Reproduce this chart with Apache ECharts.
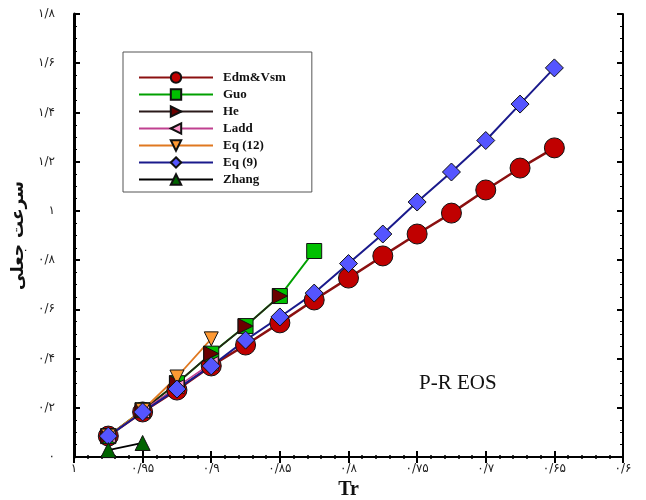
<!DOCTYPE html>
<html><head><meta charset="utf-8">
<script src="https://cdn.jsdelivr.net/npm/echarts@6/dist/echarts.min.js"></script>
<style>html,body{margin:0;padding:0;background:#fff}#c{width:646px;height:500px}</style>
</head><body><div id="c"></div>
<script>
// Tr values (x axis, reversed)
const trAll = [0.975, 0.95, 0.925, 0.9, 0.875, 0.85, 0.825, 0.8, 0.775, 0.75, 0.725, 0.7, 0.675, 0.65];
const edmVsm = [0.085, 0.183, 0.272, 0.37, 0.455, 0.545, 0.638, 0.727, 0.817, 0.906, 0.991, 1.085, 1.174, 1.256];
const eq9    = [0.085, 0.183, 0.276, 0.37, 0.475, 0.569, 0.666, 0.786, 0.906, 1.036, 1.158, 1.286, 1.434, 1.581];
const guo    = [0.085, 0.19, 0.30, 0.42, 0.532, 0.654, 0.837];
const he     = [0.085, 0.19, 0.30, 0.42, 0.532, 0.654];
const ladd   = [0.085, 0.186, 0.285, 0.38];
const eq12   = [0.085, 0.19, 0.325, 0.48];
const zhang  = [0.028, 0.057];
const seriesNames = ['Edm&Vsm', 'Guo', 'He', 'Ladd', 'Eq (12)', 'Eq (9)', 'Zhang'];
const xTicks = [1, 0.95, 0.9, 0.85, 0.8, 0.75, 0.7, 0.65, 0.6];
const yTicks = [0, 0.2, 0.4, 0.6, 0.8, 1, 1.2, 1.4, 1.6, 1.8];
const yTitle = 'سرعت جعلی';
const xTitle = 'Tr';
const note = 'P-R EOS';

const fa = '۰۱۲۳۴۵۶۷۸۹';
function toFa(v) {
  let s = String(+(+v).toFixed(3)).replace('.', '/');
  return s.replace(/[0-9]/g, d => fa[+d]);
}
function pairs(ys) { return ys.map((y, i) => [trAll[i], y]); }

const chart = echarts.init(document.getElementById('c'), null, {renderer: 'canvas'});

function mk(name, ys, lineColor, lineWidth, symbol, size, fill, rot) {
  return {
    name, type: 'line', data: pairs(ys),
    symbol, symbolSize: size, symbolRotate: rot || 0,
    lineStyle: {color: lineColor, width: lineWidth},
    itemStyle: {color: fill, borderColor: '#111', borderWidth: 1},
    emphasis: {disabled: true}, animation: false, z: 2
  };
}

const axisCommon = {
  type: 'value', min: 0.6, max: 1, interval: 0.05, inverse: true,
  splitLine: {show: false},
  minorTick: {show: true, splitNumber: 5, length: 2, lineStyle: {color: '#000', width: 1.5}},
  axisTick: {show: true, inside: true, length: 6, lineStyle: {color: '#000', width: 2}}
};
const yCommon = {
  type: 'value', min: 0, max: 1.8, interval: 0.2,
  splitLine: {show: false},
  minorTick: {show: true, splitNumber: 4, length: 3, lineStyle: {color: '#000', width: 1}},
  axisTick: {show: true, inside: true, length: 6, lineStyle: {color: '#000', width: 2}}
};

chart.setOption({
  animation: false,
  backgroundColor: '#fff',
  grid: {left: 74, right: 23, top: 14, bottom: 43, outerBoundsMode: 'none', containLabel: false},
  legend: {
    orient: 'vertical', left: 123, top: 52,
    padding: [19, 26, 6, 15],
    itemWidth: 74, itemHeight: 13, itemGap: 4,
    backgroundColor: '#fff', borderColor: '#555', borderWidth: 1,
    textStyle: {fontFamily: 'Liberation Serif', fontWeight: 'bold', fontSize: 13, color: '#111', padding: [0, 0, 0, 5]},
    data: seriesNames
  },
  xAxis: [
    Object.assign({}, axisCommon, {
      position: 'bottom',
      name: xTitle, nameLocation: 'middle', nameGap: 23,
      nameTextStyle: {fontFamily: 'Liberation Serif', fontWeight: 'bold', fontSize: 20, color: '#111'},
      axisLine: {show: false},
      axisLabel: {margin: 6, fontFamily: 'DejaVu Sans', fontSize: 12, color: '#222', formatter: v => toFa(v)}
    }),
    Object.assign({}, axisCommon, {
      position: 'top',
      axisLine: {show: true, lineStyle: {color: '#000', width: 2}},
      axisLabel: {show: false}
    })
  ],
  yAxis: [
    Object.assign({}, yCommon, {
      position: 'left',
      name: yTitle, nameLocation: 'middle', nameGap: 40,
      nameTextStyle: {fontFamily: 'DejaVu Sans', fontWeight: 'bold', fontSize: 17, color: '#111'},
      axisLine: {show: true, lineStyle: {color: '#000', width: 3}},
      axisLabel: {margin: 19, fontFamily: 'DejaVu Sans', fontSize: 12, color: '#222', formatter: v => toFa(v)}
    }),
    Object.assign({}, yCommon, {
      position: 'right',
      axisLine: {show: true, lineStyle: {color: '#000', width: 2}},
      axisLabel: {show: false}
    })
  ],
  graphic: [{
    type: 'text', left: 419, top: 373,
    style: {text: note, fontFamily: 'Liberation Serif', fontSize: 21, fill: '#111'}
  }],
  series: [
    mk('Edm&Vsm', edmVsm, '#8B1010', 2.5, 'circle', 20, '#C00000'),
    mk('Guo', guo, '#00A000', 2, 'rect', 15, '#00C000'),
    mk('He', he, '#2a1a1a', 1.5, 'triangle', 15, '#6B0000', -90),
    mk('Ladd', ladd, '#C04090', 1.5, 'triangle', 14, '#FF99CC', 90),
    mk('Eq (12)', eq12, '#E07820', 1.8, 'triangle', 14, '#FF9933', 180),
    mk('Eq (9)', eq9, '#1A1A8C', 2, 'diamond', 18, '#5555FF'),
    mk('Zhang', zhang, '#000', 1.8, 'triangle', 15, '#006400')
  ]
});
</script></body></html>
